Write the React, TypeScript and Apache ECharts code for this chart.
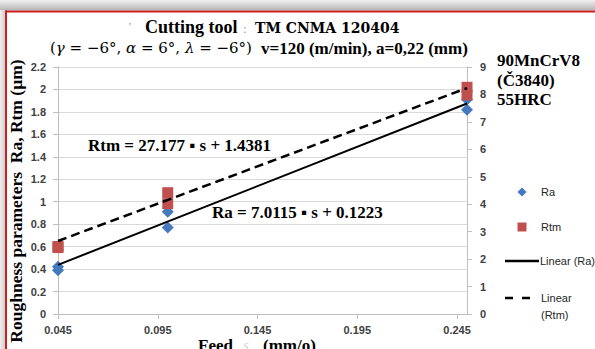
import React, { useEffect, useRef } from 'react';
import * as echarts from 'echarts';

// Measured points (feed s in mm/o)
const raFeed = [0.045, 0.045, 0.1, 0.1, 0.25, 0.25];
const raValues = [0.42, 0.39, 0.91, 0.77, 1.91, 1.82];
const rtmFeed = [0.045, 0.045, 0.1, 0.1, 0.25, 0.25];
const rtmValues = [2.42, 2.46, 4.42, 4.02, 8.26, 7.98];
// Trend lines (end points)
const trendFeed = [0.045, 0.25];
const raTrend = [0.4378, 1.8752];
const rtmTrend = [2.6611, 8.2324];
// Axis ticks
const xTickValues = [0.045, 0.095, 0.145, 0.195, 0.245];
const leftAxis = { min: 0, max: 2.2, step: 0.2 };
const rightAxis = { min: 0, max: 9, step: 1 };

const SERIF = 'Liberation Serif';
const SANS = 'Liberation Sans';

export default function App() {
  const ref = useRef<HTMLDivElement>(null);

  useEffect(() => {
    if (!ref.current) return;
    const chart = echarts.init(ref.current, undefined, { renderer: 'svg' });

    const axisLabelStyle = {
      color: '#404040',
      fontSize: 11,
      fontWeight: 'bold' as const,
      fontFamily: SANS,
    };
    const axisGray = '#bfbfbf';

    const option: any = {
      animation: false,
      backgroundColor: '#ffffff',
      grid: { left: 58, right: 128, top: 67, bottom: 35, containLabel: false },
      xAxis: {
        type: 'value',
        min: 0.045,
        max: 0.25,
        axisLine: { show: true, onZero: false, lineStyle: { color: axisGray, width: 1 } },
        axisTick: { show: true, length: 5, lineStyle: { color: axisGray }, customValues: xTickValues },
        axisLabel: { ...axisLabelStyle, margin: 10, customValues: xTickValues },
        splitLine: { show: false },
      },
      yAxis: [
        {
          type: 'value',
          min: leftAxis.min,
          max: leftAxis.max,
          interval: leftAxis.step,
          position: 'left',
          axisLine: { show: true, lineStyle: { color: axisGray } },
          axisTick: { show: true, length: 5, lineStyle: { color: axisGray } },
          axisLabel: { ...axisLabelStyle, margin: 12 },
          splitLine: { show: true, lineStyle: { color: '#d9d9d9', width: 1 } },
        },
        {
          type: 'value',
          min: rightAxis.min,
          max: rightAxis.max,
          interval: rightAxis.step,
          position: 'right',
          axisLine: { show: true, lineStyle: { color: axisGray } },
          axisTick: { show: true, length: 5, lineStyle: { color: axisGray } },
          axisLabel: { ...axisLabelStyle, margin: 13 },
          splitLine: { show: false },
        },
      ],
      series: [
        {
          type: 'scatter',
          name: 'Ra',
          yAxisIndex: 0,
          symbol: 'diamond',
          symbolSize: 12,
          itemStyle: { color: '#4579bd', opacity: 1 },
          data: raFeed.map((x, i) => [x, raValues[i]]),
          z: 3,
        },
        {
          type: 'scatter',
          name: 'Rtm',
          yAxisIndex: 1,
          symbol: 'rect',
          symbolSize: 11,
          itemStyle: { color: '#c0504d', opacity: 1 },
          data: rtmFeed.map((x, i) => [x, rtmValues[i]]),
          z: 4,
        },
        {
          type: 'line',
          name: 'Linear (Ra)',
          yAxisIndex: 0,
          symbol: 'none',
          lineStyle: { color: '#000000', width: 2 },
          data: trendFeed.map((x, i) => [x, raTrend[i]]),
          z: 5,
        },
        {
          type: 'line',
          name: 'Linear (Rtm)',
          yAxisIndex: 1,
          symbol: 'none',
          lineStyle: { color: '#000000', width: 2.5, type: [9, 5] },
          data: trendFeed.map((x, i) => [x, rtmTrend[i]]),
          z: 5,
        },
      ],
      graphic: [
        // frame shadow and red border
        {
          type: 'rect',
          shape: { x: 0, y: 0, width: 595, height: 10.5 },
          style: {
            fill: new echarts.graphic.LinearGradient(0, 0, 0, 1, [
              { offset: 0, color: '#f0f0f0' },
              { offset: 1, color: '#b4b4b4' },
            ]),
          },
          silent: true,
          z: 0,
        },
        {
          type: 'rect',
          shape: { x: 0, y: 10, width: 5, height: 339 },
          style: {
            fill: new echarts.graphic.LinearGradient(0, 0, 1, 0, [
              { offset: 0, color: '#eeeeee' },
              { offset: 1, color: '#cfcfcf' },
            ]),
          },
          silent: true,
        },
        {
          type: 'line',
          shape: { x1: 5, y1: 11.5, x2: 595, y2: 11.5 },
          style: { stroke: '#cc1f1f', lineWidth: 2 },
          silent: true,
        },
        {
          type: 'line',
          shape: { x1: 6, y1: 10.5, x2: 6, y2: 349 },
          style: { stroke: '#cc1f1f', lineWidth: 2 },
          silent: true,
        },
        // title line 1
        {
          type: 'text',
          x: 129,
          y: 26,
          style: { text: "'", fontSize: 10, fill: '#777777', fontFamily: SERIF, verticalAlign: 'middle' },
        },
        {
          type: 'text',
          x: 145,
          y: 27,
          style: {
            text: 'Cutting tool',
            fontSize: 18,
            fontWeight: 'bold',
            fontFamily: SERIF,
            fill: '#000',
            verticalAlign: 'middle',
          },
        },
        {
          type: 'text',
          x: 243,
          y: 28,
          style: { text: ':', fontSize: 13, fontFamily: SERIF, fill: '#9a9a9a', verticalAlign: 'middle' },
        },
        {
          type: 'text',
          x: 255,
          y: 28,
          style: {
            text: 'TM CNMA 120404',
            fontSize: 14,
            fontWeight: 'bold',
            fontFamily: 'DejaVu Serif',
            fill: '#000',
            verticalAlign: 'middle',
          },
        },
        // title line 2
        {
          type: 'text',
          x: 50,
          y: 48,
          style: {
            text: '{p|(}{g|γ}{p| = −6°, }{g|α}{p| = 6°, }{g|λ}{p| = −6°)}',
            verticalAlign: 'middle',
            rich: {
              p: { fontFamily: 'DejaVu Serif', fontSize: 15, fill: '#000' },
              g: { fontFamily: 'DejaVu Serif', fontSize: 15, fontStyle: 'italic', fill: '#000' },
            },
          },
        },
        {
          type: 'text',
          x: 261,
          y: 48,
          style: {
            text: 'v=120 (m/min), a=0,22 (mm)',
            fontSize: 17,
            fontWeight: 'bold',
            fontFamily: SERIF,
            fill: '#000',
            verticalAlign: 'middle',
          },
        },
        // material block
        {
          type: 'text',
          x: 497,
          y: 60,
          style: { text: '90MnCrV8', fontSize: 17, fontWeight: 'bold', fontFamily: SERIF, fill: '#000', verticalAlign: 'middle' },
        },
        {
          type: 'text',
          x: 497,
          y: 80,
          style: { text: '(Č3840)', fontSize: 17, fontWeight: 'bold', fontFamily: SERIF, fill: '#000', verticalAlign: 'middle' },
        },
        {
          type: 'text',
          x: 497,
          y: 99,
          style: { text: '55HRC', fontSize: 17, fontWeight: 'bold', fontFamily: SERIF, fill: '#000', verticalAlign: 'middle' },
        },
        // equations
        {
          type: 'text',
          x: 88,
          y: 145,
          style: {
            text: 'Rtm = 27.177 ▪ s + 1.4381',
            fontSize: 17,
            fontWeight: 'bold',
            fontFamily: SERIF,
            fill: '#000',
            verticalAlign: 'middle',
          },
          z: 10,
        },
        {
          type: 'text',
          x: 212,
          y: 212,
          style: {
            text: 'Ra = 7.0115 ▪ s + 0.1223',
            fontSize: 17,
            fontWeight: 'bold',
            fontFamily: SERIF,
            fill: '#000',
            verticalAlign: 'middle',
          },
          z: 10,
        },
        // axis names
        {
          type: 'text',
          x: 16,
          y: 201,
          rotation: Math.PI / 2,
          style: {
            text: 'Roughness parameters  Ra, Rtm (µm)',
            fontSize: 17.5,
            fontWeight: 'bold',
            fontFamily: SERIF,
            fill: '#000',
            align: 'center',
            verticalAlign: 'middle',
          },
        },
        {
          type: 'text',
          x: 198,
          y: 345,
          style: { text: 'Feed', fontSize: 17, fontWeight: 'bold', fontFamily: SERIF, fill: '#000', verticalAlign: 'middle' },
        },
        {
          type: 'text',
          x: 243,
          y: 345,
          style: { text: 's', fontSize: 15, fontStyle: 'italic', fontFamily: SERIF, fill: '#d6d6d6', verticalAlign: 'middle' },
        },
        {
          type: 'text',
          x: 263,
          y: 345,
          style: { text: '(mm/o)', fontSize: 17, fontWeight: 'bold', fontFamily: SERIF, fill: '#000', verticalAlign: 'middle' },
        },
        // legend
        {
          type: 'polygon',
          shape: { points: [[522, 187.5], [526.5, 192], [522, 196.5], [517.5, 192]] },
          style: { fill: '#4579bd' },
        },
        {
          type: 'text',
          x: 541,
          y: 192,
          style: { text: 'Ra', fontSize: 11, fontFamily: SANS, fill: '#262626', verticalAlign: 'middle' },
        },
        {
          type: 'rect',
          shape: { x: 517.5, y: 222.5, width: 9, height: 9 },
          style: { fill: '#c0504d' },
        },
        {
          type: 'text',
          x: 541,
          y: 227,
          style: { text: 'Rtm', fontSize: 11, fontFamily: SANS, fill: '#262626', verticalAlign: 'middle' },
        },
        {
          type: 'line',
          shape: { x1: 505, y1: 261, x2: 539, y2: 261 },
          style: { stroke: '#000', lineWidth: 2.5 },
        },
        {
          type: 'text',
          x: 540,
          y: 261,
          style: { text: 'Linear (Ra)', fontSize: 11, fontFamily: SANS, fill: '#262626', verticalAlign: 'middle' },
        },
        {
          type: 'line',
          shape: { x1: 505, y1: 298, x2: 531, y2: 298 },
          style: { stroke: '#000', lineWidth: 2.5, lineDash: [8, 9] },
        },
        {
          type: 'text',
          x: 541,
          y: 298,
          style: { text: 'Linear', fontSize: 11, fontFamily: SANS, fill: '#262626', verticalAlign: 'middle' },
        },
        {
          type: 'text',
          x: 541,
          y: 315,
          style: { text: '(Rtm)', fontSize: 11, fontFamily: SANS, fill: '#262626', verticalAlign: 'middle' },
        },
      ],
    };

    chart.setOption(option);
    return () => chart.dispose();
  }, []);

  return (
    <div
      ref={ref}
      style={{ position: 'fixed', left: 0, top: 0, width: 595, height: 349 }}
    />
  );
}
